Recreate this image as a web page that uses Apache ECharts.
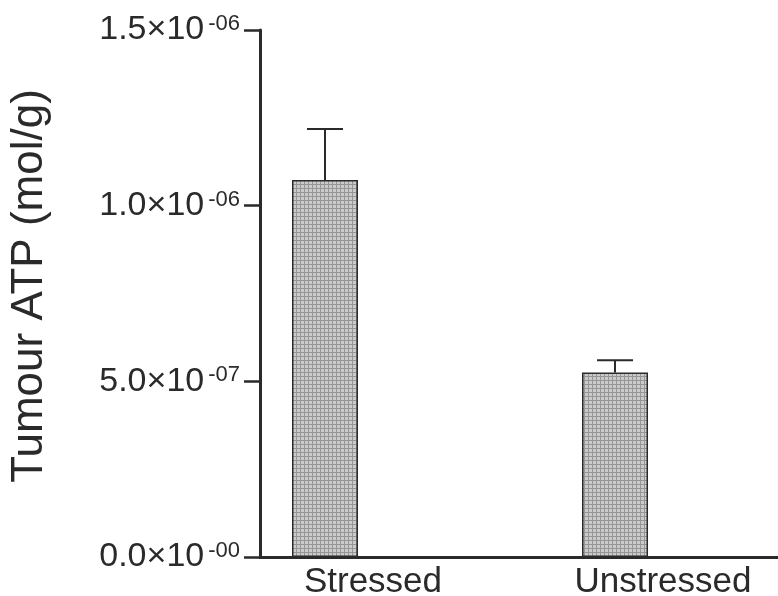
<!DOCTYPE html>
<html>
<head>
<meta charset="utf-8">
<script src="https://cdn.jsdelivr.net/npm/echarts@6/dist/echarts.min.js"></script>
<style>
  html, body { margin: 0; padding: 0; background: #fff; }
  #chart { width: 778px; height: 596px; }
</style>
</head>
<body>
<div id="chart"></div>
<script>
// data
const categories = ['Stressed', 'Unstressed'];
const atpMean = [1.073e-6, 5.25e-7];
const atpSem = [1.455e-7, 3.5e-8];
const yTickBase = ['0.0×10', '5.0×10', '1.0×10', '1.5×10'];
const yTickExp = ['-00', '-07', '-06', '-06'];

// little grey hatch for the bars
const makeHatch = () => {
  const c = document.createElement('canvas');
  c.width = 4; c.height = 4;
  const ctx = c.getContext('2d');
  ctx.fillStyle = '#cbcbcb';
  ctx.fillRect(0, 0, 4, 4);
  ctx.fillStyle = '#959595';
  ctx.fillRect(0, 0, 4, 1);
  ctx.fillRect(0, 0, 1, 4);
  return c;
};

const barData = categories.map((name, i) => [i, atpMean[i]]);
const errData = categories.map((name, i) => [i, atpMean[i], atpMean[i] + atpSem[i]]);

const chart = echarts.init(document.getElementById('chart'), null, { renderer: 'canvas' });

const font = 'Liberation Sans, Arial, sans-serif';
const ink = '#2a2a2a';

const option = {
  animation: false,
  backgroundColor: '#fff',
  grid: { left: 260, right: 0, top: 30, bottom: 39, outerBoundsMode: 'none', containLabel: false },
  xAxis: {
    type: 'value',
    min: -0.2241,
    max: 1.562,
    splitLine: { show: false },
    axisLine: { show: true, onZero: false, lineStyle: { color: ink, width: 3 } },
    axisTick: { show: false },
    axisLabel: {
      customValues: [0, 1],
      formatter: (v) => categories[Math.round(v)] || '',
      color: ink,
      fontFamily: font,
      fontSize: 35,
      margin: 8,
      padding: [0, 0, 0, 96]
    }
  },
  yAxis: {
    type: 'value',
    min: 0,
    max: 1.5e-6,
    interval: 5e-7,
    name: 'Tumour ATP (mol/g)',
    nameLocation: 'middle',
    nameGap: 208,
    nameTextStyle: {
      color: ink,
      fontFamily: font,
      fontSize: 44,
      padding: [0, 0, 0, 15]
    },
    splitLine: { show: false },
    axisLine: { show: true, onZero: false, lineStyle: { color: ink, width: 3 } },
    axisTick: { show: true, length: 16, lineStyle: { color: ink, width: 2.5 } },
    axisLabel: {
      margin: 20,
      formatter: (v, idx) => yTickBase[idx] + '{sup|' + yTickExp[idx] + '}',
      color: ink,
      fontFamily: font,
      fontSize: 34,
      rich: {
        sup: {
          fontSize: 22,
          color: ink,
          fontFamily: font,
          verticalAlign: 'top',
          padding: [0, 0, 0, 4]
        }
      }
    }
  },
  series: [
    {
      type: 'bar',
      data: barData,
      barWidth: 66,
      itemStyle: {
        color: { image: makeHatch(), repeat: 'repeat' },
        borderColor: ink,
        borderWidth: 1.5
      }
    },
    {
      type: 'custom',
      data: errData,
      z: 3,
      renderItem: (params, api) => {
        const x = api.value(0);
        const base = api.coord([x, api.value(1)]);
        const top = api.coord([x, api.value(2)]);
        const half = 18;
        const style = { stroke: ink, lineWidth: 2 };
        return {
          type: 'group',
          children: [
            { type: 'line', shape: { x1: base[0], y1: base[1], x2: top[0], y2: top[1] }, style },
            { type: 'line', shape: { x1: top[0] - half, y1: top[1], x2: top[0] + half, y2: top[1] }, style }
          ]
        };
      }
    }
  ]
};

chart.setOption(option);
window.addEventListener('resize', chart.resize);
</script>
</body>
</html>
